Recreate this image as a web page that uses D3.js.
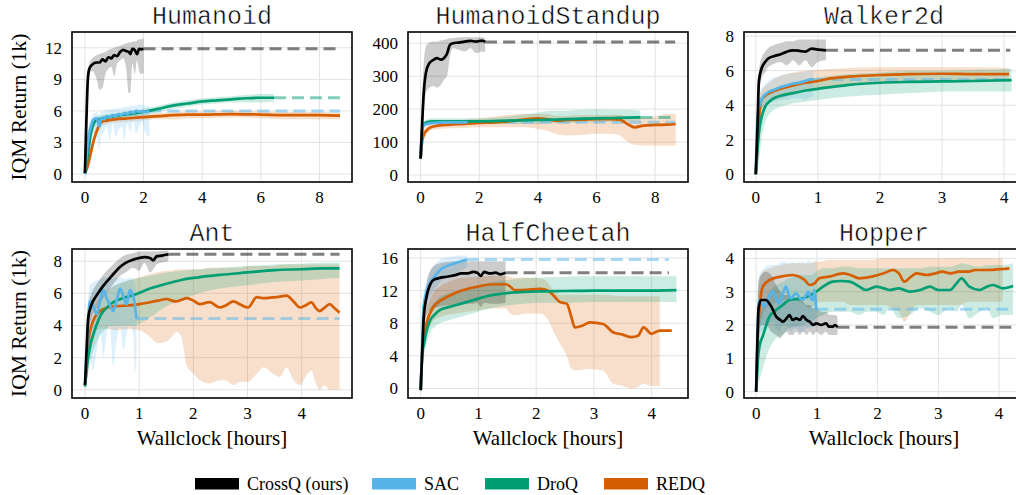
<!DOCTYPE html>
<html><head><meta charset="utf-8">
<script src="https://cdn.jsdelivr.net/npm/d3@7"></script>
<style>body{margin:0;background:#fff;} svg{display:block;}</style>
</head><body>
<script>
// ---------- DATA: each row is [hours, IQM mean, lower, upper] ----------
const algos = ["CrossQ (ours)", "SAC", "DroQ", "REDQ"];
const envs = ["Humanoid", "HumanoidStandup", "Walker2d", "Ant", "HalfCheetah", "Hopper"];

const humanoidCrossQ = [[0,0.1,0,0.3],[0.05,5,4,6],[0.1,9,8.5,9.6],[0.15,10,9.5,10.5],[0.25,10.4,9.8,11],[0.4,10.6,9,11.3],[0.5,10.6,8.0,11.4],[0.6,10.9,8.2,11.5],[0.7,10.7,9.5,11.6],[0.8,11.1,10,11.8],[0.9,11.0,10.2,11.9],[1.0,11.3,9.3,12.0],[1.1,11.2,10.5,12.1],[1.2,11.6,10.8,12.2],[1.3,11.8,11,12.3],[1.4,11.7,10.2,12.4],[1.5,11.6,7.7,12.5],[1.55,11.4,7.7,12.5],[1.62,11.9,10.5,12.6],[1.7,11.8,9.5,12.6],[1.78,11.4,10.8,12.7],[1.85,11.9,9.8,12.8],[1.92,11.85,9.5,12.8],[2.0,11.9,9.6,12.9]];
const humanoidSAC = [[0,0,0,0.3],[0.05,1.5,0.8,2.5],[0.1,3,2,4],[0.2,4.5,3,5.3],[0.3,5.2,4,5.7],[0.4,5.3,3.5,5.9],[0.5,4.5,2.5,5.6],[0.55,5.3,3.5,5.9],[0.65,5.2,4,6.0],[0.75,5.5,4.5,6.1],[0.85,5.4,3.2,6.1],[0.95,5.6,4.8,6.2],[1.05,5.5,3.5,6.2],[1.15,5.7,4.2,6.3],[1.25,5.6,4.5,6.3],[1.35,5.8,3.2,6.4],[1.45,5.7,4.8,6.4],[1.55,5.9,4.0,6.5],[1.65,5.8,5.0,6.5],[1.75,6.0,3.8,6.5],[1.85,5.9,4.5,6.6],[1.95,5.95,5.0,6.6],[2.05,5.9,4.0,6.5],[2.2,5.98,3.5,6.5]];
const humanoidDroQ = [[0,0,0,0.2],[0.1,1.8,1.2,2.5],[0.2,3.8,3,4.5],[0.3,4.8,4.2,5.3],[0.4,5.1,4.7,5.5],[0.6,5.3,5.0,5.6],[0.8,5.4,5.1,5.7],[1.0,5.5,5.2,5.8],[1.5,5.7,5.4,6.0],[2.0,5.9,5.6,6.2],[2.5,6.2,5.9,6.5],[3.0,6.5,6.2,6.8],[3.5,6.7,6.4,7.0],[4.0,6.9,6.6,7.2],[4.5,7.0,6.7,7.3],[5.0,7.1,6.8,7.4],[5.5,7.2,6.8,7.5],[6.0,7.25,6.8,7.6],[6.45,7.25,6.9,7.6]];
const humanoidREDQ = [[0,0,0,0.3],[0.1,0.8,0.4,1.3],[0.2,2.0,1.4,2.6],[0.3,3.2,2.6,3.8],[0.45,4.4,3.9,4.9],[0.6,5.0,4.6,5.3],[0.8,5.1,4.8,5.4],[1.0,5.2,4.9,5.5],[1.5,5.3,5.0,5.6],[2.0,5.4,5.1,5.7],[2.5,5.5,5.2,5.8],[3.0,5.6,5.2,5.9],[3.5,5.65,5.3,5.95],[4.0,5.65,5.3,5.95],[5.0,5.7,5.4,6.0],[6.0,5.65,5.3,5.95],[7.0,5.6,5.2,5.9],[8.0,5.6,5.2,5.9],[8.7,5.55,5.2,5.85]];

const standupCrossQ = [[0,50,45,60],[0.05,150,110,220],[0.1,240,180,330],[0.18,310,250,390],[0.3,340,265,402],[0.45,350,270,405],[0.55,355,265,405],[0.7,350,275,408],[0.8,355,290,410],[0.9,368,300,412],[1.0,395,360,415],[1.1,400,385,415],[1.3,402,380,418],[1.5,405,375,418],[1.7,407,385,418],[1.9,405,370,418],[2.1,408,375,418],[2.2,404,372,415]];
const standupSAC = [[0,50,45,60],[0.05,130,110,150],[0.1,150,140,158],[0.2,155,148,162],[0.4,158,152,164],[0.8,160,154,166],[1.2,160,155,166],[1.6,160,155,166]];
const standupDroQ = [[0,50,45,60],[0.05,135,120,150],[0.1,152,145,160],[0.2,160,152,168],[0.4,163,155,172],[1,163,155,172],[2,163,155,172],[3,165,155,178],[4,167,155,190],[4.5,168,158,195],[5,170,158,195],[5.5,171,160,198],[6,172,160,200],[6.5,173,162,198],[7,174,163,198],[7.5,175,165,195]];
const standupREDQ = [[0,50,45,60],[0.05,100,90,115],[0.1,120,108,135],[0.2,135,122,148],[0.35,145,135,158],[0.6,150,140,162],[1,153,142,165],[1.5,155,143,168],[2,158,145,172],[2.5,160,145,178],[3,163,145,182],[3.5,168,145,185],[4,172,140,185],[4.3,170,135,185],[4.6,165,125,180],[5,167,120,180],[5.5,168,122,182],[6,170,125,182],[6.5,170,125,183],[6.8,168,120,182],[7,158,105,178],[7.3,145,92,170],[7.6,150,90,175],[8,152,90,178],[8.4,153,90,185],[8.7,155,90,185]];

const walkerCrossQ = [[0,0,0,0.3],[0.03,3,2,4],[0.05,5.4,4.5,6],[0.1,6.2,5.6,6.8],[0.15,6.5,5.9,7.1],[0.2,6.7,6.2,7.3],[0.3,6.85,6.4,7.5],[0.4,6.95,6.5,7.6],[0.5,7.1,6.3,7.7],[0.6,7.18,6.6,7.7],[0.7,7.15,6.3,7.8],[0.8,7.1,6.6,7.8],[0.9,7.28,6.2,7.8],[1.0,7.22,6.5,7.8],[1.13,7.18,6.6,7.8]];
const walkerSAC = [[0,0,0,0.3],[0.03,3.5,2.5,4.2],[0.06,4.0,3.3,4.6],[0.1,4.4,3.8,5.0],[0.2,4.75,4.1,5.4],[0.3,4.9,4.2,5.6],[0.4,5.05,4.3,5.7],[0.5,5.15,4.3,5.8],[0.6,5.25,4.4,5.85],[0.7,5.3,4.4,5.9],[0.8,5.4,4.3,5.95],[0.9,5.5,4.5,6.0],[0.93,5.49,4.5,6.0]];
const walkerDroQ = [[0,0,0,0.5],[0.05,2.4,0.8,3.8],[0.1,3.4,2.2,4.3],[0.15,3.9,3.0,4.6],[0.25,4.3,3.6,4.9],[0.4,4.55,3.9,5.1],[0.6,4.7,4.1,5.3],[0.8,4.85,4.2,5.5],[1.0,4.95,4.3,5.6],[1.2,5.05,4.4,5.7],[1.5,5.18,4.5,5.8],[2.0,5.3,4.6,5.9],[2.5,5.35,4.7,6.0],[3.0,5.38,4.8,6.0],[3.5,5.4,4.8,6.05],[4.12,5.45,4.8,6.1]];
const walkerREDQ = [[0,0,0,0.3],[0.04,2.5,1.5,3.5],[0.08,4.2,3.6,4.8],[0.15,4.55,4.0,5.1],[0.25,4.75,4.2,5.4],[0.4,4.95,4.4,5.7],[0.6,5.15,4.6,5.9],[0.8,5.3,4.8,6.0],[1.0,5.4,5.0,6.05],[1.2,5.55,5.1,6.1],[1.5,5.65,5.2,6.15],[2.0,5.75,5.3,6.2],[2.5,5.8,5.35,6.2],[3.0,5.82,5.35,6.2],[3.5,5.8,5.4,6.2],[4.08,5.8,5.4,6.15]];

const antCrossQ = [[0,0.3,0,0.6],[0.03,2.5,1.5,3.5],[0.06,4.5,3.5,5.3],[0.12,5.3,4.5,6.0],[0.2,5.8,5.0,6.5],[0.28,6.2,5.4,6.9],[0.37,6.6,5.9,7.3],[0.46,6.95,6.3,7.6],[0.55,7.3,6.7,7.9],[0.65,7.65,7.1,8.2],[0.75,7.9,7.3,8.4],[0.89,8.1,7.6,8.5],[1.0,8.2,7.4,8.6],[1.1,8.25,7.9,8.6],[1.2,8.2,7.3,8.6],[1.26,8.05,7.5,8.6],[1.32,8.3,7.8,8.6],[1.42,8.35,7.9,8.65],[1.54,8.43,8.0,8.65]];
const antSAC = [[0,0.3,0,0.6],[0.04,3,1,4.5],[0.09,5.5,2,6.5],[0.15,5.2,1.2,6.7],[0.22,4.7,2.5,6.8],[0.28,5.6,3.5,6.9],[0.34,6.2,2.0,7.0],[0.4,5.7,3.5,7.0],[0.46,5.3,4.0,7.0],[0.52,4.9,1.5,6.9],[0.58,5.5,3.0,7.0],[0.65,6.3,4.0,7.0],[0.71,5.8,2.5,6.9],[0.77,5.3,3.5,6.9],[0.83,6.2,4.0,7.0],[0.89,5.8,3.5,6.8],[0.92,5.33,1.0,6.5],[0.95,4.43,2.0,6.0]];
const antDroQ = [[0,0.2,0,0.5],[0.05,1.8,0.8,2.8],[0.1,2.8,1.8,3.8],[0.15,3.4,2.4,4.4],[0.22,4.1,3.0,5.1],[0.3,4.7,3.5,5.7],[0.4,5.1,3.8,6.1],[0.5,5.4,4.0,6.4],[0.7,5.7,4.0,6.7],[0.9,5.9,4.0,6.9],[1.2,6.3,4.5,7.1],[1.5,6.6,5.2,7.3],[1.8,6.85,5.6,7.4],[2.1,7.0,6.0,7.5],[2.5,7.15,6.3,7.6],[3.0,7.3,6.5,7.7],[3.5,7.45,6.7,7.8],[4.0,7.5,6.8,7.85],[4.4,7.55,6.9,7.9],[4.7,7.55,6.95,7.9]];
const antREDQ = [[0,0.3,0,1.5],[0.03,1.5,0.8,3],[0.06,3.0,2.0,4.0],[0.12,4.0,3.2,4.8],[0.18,4.5,3.5,5.3],[0.28,4.9,3.8,5.8],[0.4,5.1,3.8,6.2],[0.58,5.2,3.7,6.5],[0.8,5.25,3.8,6.8],[1.01,5.33,3.7,7.0],[1.2,5.45,3.3,7.2],[1.35,5.55,2.9,7.3],[1.51,5.65,3.0,7.4],[1.6,5.55,3.3,7.4],[1.69,5.5,3.6,7.5],[1.78,5.6,3.3,7.5],[1.88,5.7,1.5,7.5],[2.0,5.55,1.0,7.5],[2.12,5.33,0.6,7.5],[2.3,5.45,0.4,7.6],[2.49,5.12,0.6,7.6],[2.6,5.25,0.6,7.6],[2.74,5.5,0.3,7.6],[2.87,5.3,0.5,7.6],[3.01,5.12,0.5,7.7],[3.17,5.76,1.0,7.7],[3.3,5.7,1.4,7.7],[3.47,5.75,1.0,7.7],[3.6,5.8,0.8,7.8],[3.72,5.86,1.4,7.8],[3.85,5.5,0.6,7.8],[3.97,5.12,0.3,7.8],[4.07,5.25,0.8,7.8],[4.18,5.44,1.2,7.8],[4.26,5.1,0.4,7.8],[4.33,4.9,0.0,7.8],[4.42,5.1,0.3,7.8],[4.52,5.33,0.0,7.8],[4.6,5.1,0.0,7.8],[4.7,4.8,0.0,7.8]];

const cheetahCrossQ = [[0,-0.2,-0.5,0],[0.03,5,3.5,6.5],[0.05,8.4,6.5,10],[0.1,11.2,9,12.8],[0.15,12.5,9.5,14.2],[0.22,13.3,9.8,15],[0.3,13.5,10,15.3],[0.45,13.7,10.2,15.5],[0.6,13.9,10.3,15.6],[0.7,14.1,10.4,15.6],[0.8,14.1,10.4,15.6],[0.91,14.3,10.4,15.6],[0.98,14.2,10.5,15.6],[1.04,13.8,10.0,15.6],[1.1,14.3,10.5,15.6],[1.2,14.1,10.4,15.6],[1.3,14.2,10.4,15.6],[1.37,14.0,10.4,15.6],[1.47,14.2,10.5,15.6]];
const cheetahSAC = [[0,-0.2,-0.5,0],[0.03,6,4,8],[0.05,10,8,11.5],[0.1,11.8,10.2,13.2],[0.16,12.9,11.3,14.3],[0.25,13.8,12.3,15.2],[0.33,14.5,13.0,15.8],[0.45,15.0,13.6,16.1],[0.57,15.3,14.0,16.2],[0.7,15.6,14.5,16.3],[0.8,15.8,14.8,16.3]];
const cheetahDroQ = [[0,-0.2,-0.5,0],[0.03,4.5,3,6],[0.05,5.2,3.8,6.8],[0.1,7.0,5.5,8.5],[0.16,8.3,6.8,9.8],[0.25,9.1,7.6,10.6],[0.33,9.6,8.0,11.2],[0.5,10.0,8.4,11.7],[0.7,10.4,8.8,12.1],[0.9,10.8,9.2,12.5],[1.2,11.4,9.8,13.0],[1.5,11.7,10.2,13.3],[1.8,11.85,10.4,13.5],[2.1,11.9,10.5,13.6],[2.5,11.95,10.5,13.7],[3.0,12.0,10.6,13.75],[3.5,12.0,10.6,13.75],[4.0,12.0,10.6,13.75],[4.43,12.05,10.6,13.75]];
const cheetahREDQ = [[0,-0.2,-0.5,0],[0.03,5,4,6.5],[0.05,6.3,5,7.8],[0.1,8.0,6.5,9.5],[0.22,10.0,8.3,11.7],[0.35,10.8,8.8,12.6],[0.45,11.2,9.0,13.0],[0.6,11.7,9.2,13.4],[0.8,12.2,9.4,13.6],[1.0,12.5,9.6,13.7],[1.2,12.75,9.8,13.8],[1.47,12.78,9.8,13.8],[1.55,12.5,9.2,13.7],[1.63,12.05,9.0,13.6],[1.84,12.1,9.2,13.6],[2.07,12.2,9.2,13.5],[2.2,12.0,8.5,13.0],[2.3,11.4,7.0,12.0],[2.41,10.6,5.5,11.5],[2.53,10.4,4.0,11.5],[2.6,9.0,2.5,11.5],[2.67,7.5,2.2,11.5],[2.8,7.7,2.3,11.5],[2.93,8.1,2.4,11.5],[3.16,7.9,2.2,11.5],[3.33,6.9,0.6,11.4],[3.5,6.6,0.3,11.3],[3.65,6.3,0.0,11.3],[3.77,6.5,0.2,11.3],[3.86,7.5,0.6,11.3],[4.0,6.7,0.3,11.3],[4.14,7.1,0.3,11.3],[4.35,7.1,null,null]];

const hopperCrossQ = [[0,0,0,0.2],[0.02,1.5,0.8,2.5],[0.04,2.5,1.8,3.3],[0.08,2.75,2.0,3.5],[0.16,2.75,2.0,3.6],[0.25,2.55,1.8,3.5],[0.33,2.25,1.7,3.2],[0.4,2.15,1.6,3.0],[0.44,2.1,1.7,2.9],[0.5,2.2,1.8,2.9],[0.55,2.3,1.7,2.9],[0.6,2.15,1.7,2.8],[0.66,2.2,1.8,2.8],[0.72,2.15,1.7,2.8],[0.77,2.27,1.8,2.7],[0.83,2.15,1.7,2.6],[0.88,2.1,1.8,2.6],[0.94,2.0,1.7,2.5],[0.99,2.05,1.8,2.5],[1.07,2.0,1.7,2.4],[1.15,2.05,1.8,2.4],[1.2,1.95,1.7,2.3],[1.26,1.95,1.7,2.3],[1.3,2.0,1.7,2.3],[1.34,1.93,1.7,2.25]];
const hopperSAC = [[0,0,0,0.2],[0.02,1.5,0.8,2.5],[0.05,2.75,1.8,3.5],[0.13,2.55,1.8,3.7],[0.2,2.8,2.0,3.8],[0.27,3.0,2.1,3.8],[0.33,2.8,1.9,3.8],[0.38,2.65,1.8,3.85],[0.44,2.95,2.0,3.9],[0.49,3.15,2.0,3.9],[0.54,2.9,1.9,3.85],[0.58,2.8,1.8,3.9],[0.62,2.9,1.9,3.9],[0.66,2.95,1.9,3.85],[0.72,2.8,1.8,3.9],[0.77,2.75,1.8,3.9],[0.82,2.9,1.9,3.85],[0.86,3.0,1.9,3.95],[0.9,2.8,1.9,3.9],[0.94,2.75,2.0,3.85],[0.96,3.05,2.0,3.95],[0.99,2.47,1.9,3.8]];
const hopperDroQ = [[0,0,0,0.3],[0.03,1.0,0.2,2.0],[0.06,1.4,0.4,2.4],[0.11,1.67,0.7,2.6],[0.22,2.25,1.3,3.0],[0.33,2.45,1.6,3.2],[0.44,2.6,1.7,3.3],[0.55,2.75,1.9,3.4],[0.77,2.8,2.0,3.5],[0.9,2.9,2.1,3.5],[0.99,3.0,2.2,3.6],[1.1,3.15,2.3,3.7],[1.26,3.3,2.4,3.7],[1.4,3.32,2.4,3.75],[1.54,3.3,2.4,3.75],[1.7,3.15,2.3,3.7],[1.81,3.05,2.4,3.7],[1.98,3.15,2.4,3.7],[2.1,3.1,2.3,3.7],[2.2,3.05,2.5,3.7],[2.35,3.1,2.2,3.7],[2.53,3.0,2.3,3.7],[2.7,3.05,2.5,3.7],[2.86,3.15,2.4,3.75],[3.0,3.05,2.3,3.75],[3.19,3.05,2.5,3.75],[3.3,3.25,2.4,3.8],[3.38,3.4,2.6,3.85],[3.51,3.15,2.2,3.8],[3.68,3.05,2.4,3.75],[3.8,3.15,2.5,3.8],[3.9,3.2,2.2,3.8],[4.06,3.1,2.3,3.8],[4.23,3.17,2.3,3.85]];
const hopperREDQ = [[0,0,0,0.2],[0.03,1.8,1.0,2.8],[0.06,2.6,1.8,3.4],[0.11,3.15,2.3,3.6],[0.22,3.35,2.6,3.7],[0.4,3.45,2.7,3.8],[0.6,3.5,2.8,3.85],[0.71,3.45,2.7,3.85],[0.8,3.35,2.6,3.85],[0.88,3.2,2.5,3.85],[0.96,3.25,2.6,3.9],[1.04,3.4,2.7,3.9],[1.2,3.45,2.7,3.95],[1.43,3.55,2.7,3.95],[1.55,3.5,2.6,3.95],[1.7,3.4,2.6,3.95],[1.9,3.45,2.6,3.95],[2.1,3.55,2.6,4.0],[2.25,3.65,2.5,4.0],[2.35,3.55,2.4,4.0],[2.44,3.3,2.1,4.0],[2.55,3.45,2.4,4.0],[2.64,3.55,2.6,4.0],[2.8,3.5,2.6,4.0],[2.95,3.55,2.6,4.0],[3.06,3.6,2.6,4.0],[3.2,3.55,2.6,4.0],[3.34,3.6,2.6,4.0],[3.5,3.6,2.7,4.0],[3.61,3.65,2.7,4.0],[3.8,3.65,2.7,4.0],[4.06,3.68,2.7,4.0],[4.17,3.7,null,null]];

// tick labels
const yTicks = [[0,3,6,9,12],[0,100,200,300,400],[0,2,4,6,8],[0,2,4,6,8],[0,4,8,12,16],[0,1,2,3,4]];
const xTicks = [[0,2,4,6,8],[0,2,4,6,8],[0,1,2,3,4],[0,1,2,3,4],[0,1,2,3,4],[0,1,2,3,4]];
const yDomains = [[-0.76,13.5],[-21,434],[-0.45,8.24],[-0.51,8.76],[-1.17,17.1],[-0.19,4.28]];
const xDomains = [[-0.44,9.11],[-0.43,9.12],[-0.19,4.32],[-0.24,4.93],[-0.22,4.63],[-0.2,4.41]];
const runEnds = [8.7, 8.68, 4.1, 4.7, 4.3, 4.2];  // where the dashed "final value" lines stop

const envData = [
  [humanoidCrossQ, humanoidSAC, humanoidDroQ, humanoidREDQ],
  [standupCrossQ, standupSAC, standupDroQ, standupREDQ],
  [walkerCrossQ, walkerSAC, walkerDroQ, walkerREDQ],
  [antCrossQ, antSAC, antDroQ, antREDQ],
  [cheetahCrossQ, cheetahSAC, cheetahDroQ, cheetahREDQ],
  [hopperCrossQ, hopperSAC, hopperDroQ, hopperREDQ]
];
const colors = ["#000000", "#56B4E9", "#009E73", "#D55E00"];

// ---------- LAYOUT ----------
const W = 1016, H = 495;
const colX = [72, 408, 744], rowY = [32, 249];
const pw = 280, ph = [150, 149];
const serif = "'Liberation Serif','Times New Roman',serif";
const mono = "'Liberation Mono','Courier New',monospace";

const svg = d3.select("body").append("svg").attr("width", W).attr("height", H);
const drawOrder = [3, 2, 1, 0];

envs.forEach((name, i) => {
  const col = i % 3, row = Math.floor(i / 3);
  const x0 = colX[col], y0 = rowY[row], h = ph[row];
  const x = d3.scaleLinear().domain(xDomains[i]).range([0, pw]);
  const y = d3.scaleLinear().domain(yDomains[i]).range([h, 0]);
  const g = svg.append("g").attr("transform", `translate(${x0},${y0})`);

  // grid
  g.selectAll(".gx").data(xTicks[i]).join("line")
    .attr("x1", d => x(d)).attr("x2", d => x(d)).attr("y1", 0).attr("y2", h)
    .attr("stroke", "#e3e3e3").attr("stroke-width", 1);
  g.selectAll(".gy").data(yTicks[i]).join("line")
    .attr("y1", d => y(d)).attr("y2", d => y(d)).attr("x1", 0).attr("x2", pw)
    .attr("stroke", "#e3e3e3").attr("stroke-width", 1);

  const clipId = "clip" + i;
  g.append("clipPath").attr("id", clipId).append("rect").attr("width", pw).attr("height", h);
  const plot = g.append("g").attr("clip-path", `url(#${clipId})`);

  const area = d3.area().defined(d => d[2] != null)
    .x(d => x(d[0])).y0(d => y(d[2])).y1(d => y(d[3])).curve(d3.curveMonotoneX);
  const line = d3.line().x(d => x(d[0])).y(d => y(d[1])).curve(d3.curveMonotoneX);

  drawOrder.forEach(a => {
    plot.append("path").datum(envData[i][a]).attr("d", area)
      .attr("fill", colors[a]).attr("fill-opacity", 0.2).attr("stroke", "none");
  });
  drawOrder.forEach(a => {
    const s = envData[i][a];
    const last = s[s.length - 1];
    if (last[0] < runEnds[i] - 0.05) {
      plot.append("line")
        .attr("x1", x(last[0])).attr("x2", x(runEnds[i]))
        .attr("y1", y(last[1])).attr("y2", y(last[1]))
        .attr("stroke", colors[a]).attr("stroke-opacity", 0.5)
        .attr("stroke-width", 3).attr("stroke-dasharray", "12,6");
    }
  });
  drawOrder.forEach(a => {
    plot.append("path").datum(envData[i][a]).attr("d", line)
      .attr("fill", "none").attr("stroke", colors[a]).attr("stroke-width", 2.7)
      .attr("stroke-linejoin", "round");
  });

  // frame
  g.append("rect").attr("width", pw).attr("height", h)
    .attr("fill", "none").attr("stroke", "#000").attr("stroke-width", 1.6);

  // tick labels
  g.selectAll(".yl").data(yTicks[i]).join("text")
    .attr("x", -10).attr("y", d => y(d)).attr("dy", "0.35em")
    .attr("text-anchor", "end").attr("font-family", serif).attr("font-size", 17)
    .text(d => d);
  g.selectAll(".xl").data(xTicks[i]).join("text")
    .attr("x", d => x(d)).attr("y", h + 21)
    .attr("text-anchor", "middle").attr("font-family", serif).attr("font-size", 17)
    .text(d => d);

  // title (thin typewriter look: white hairline stroke over the glyph fill)
  g.append("text").attr("x", pw / 2).attr("y", -8)
    .attr("text-anchor", "middle").attr("font-family", mono).attr("font-size", 25)
    .attr("fill", "#000").attr("stroke", "#fff").attr("stroke-width", 0.5)
    .text(name);

  if (col === 0) {
    svg.append("text")
      .attr("transform", `translate(26,${y0 + h / 2}) rotate(-90)`)
      .attr("text-anchor", "middle").attr("font-family", serif).attr("font-size", 21.5)
      .text("IQM Return (1k)");
  }
  if (row === 1) {
    g.append("text").attr("x", pw / 2).attr("y", h + 47)
      .attr("text-anchor", "middle").attr("font-family", serif).attr("font-size", 21)
      .text("Wallclock [hours]");
  }
});

// legend
const legX = [195, 372, 485, 604];
const leg = svg.append("g");
algos.forEach((a, k) => {
  leg.append("rect").attr("x", legX[k]).attr("y", 478).attr("width", 44).attr("height", 11.5)
    .attr("fill", colors[k]);
  leg.append("text").attr("x", legX[k] + 52).attr("y", 490)
    .attr("font-family", serif).attr("font-size", 18).text(a);
});
</script>
</body></html>
